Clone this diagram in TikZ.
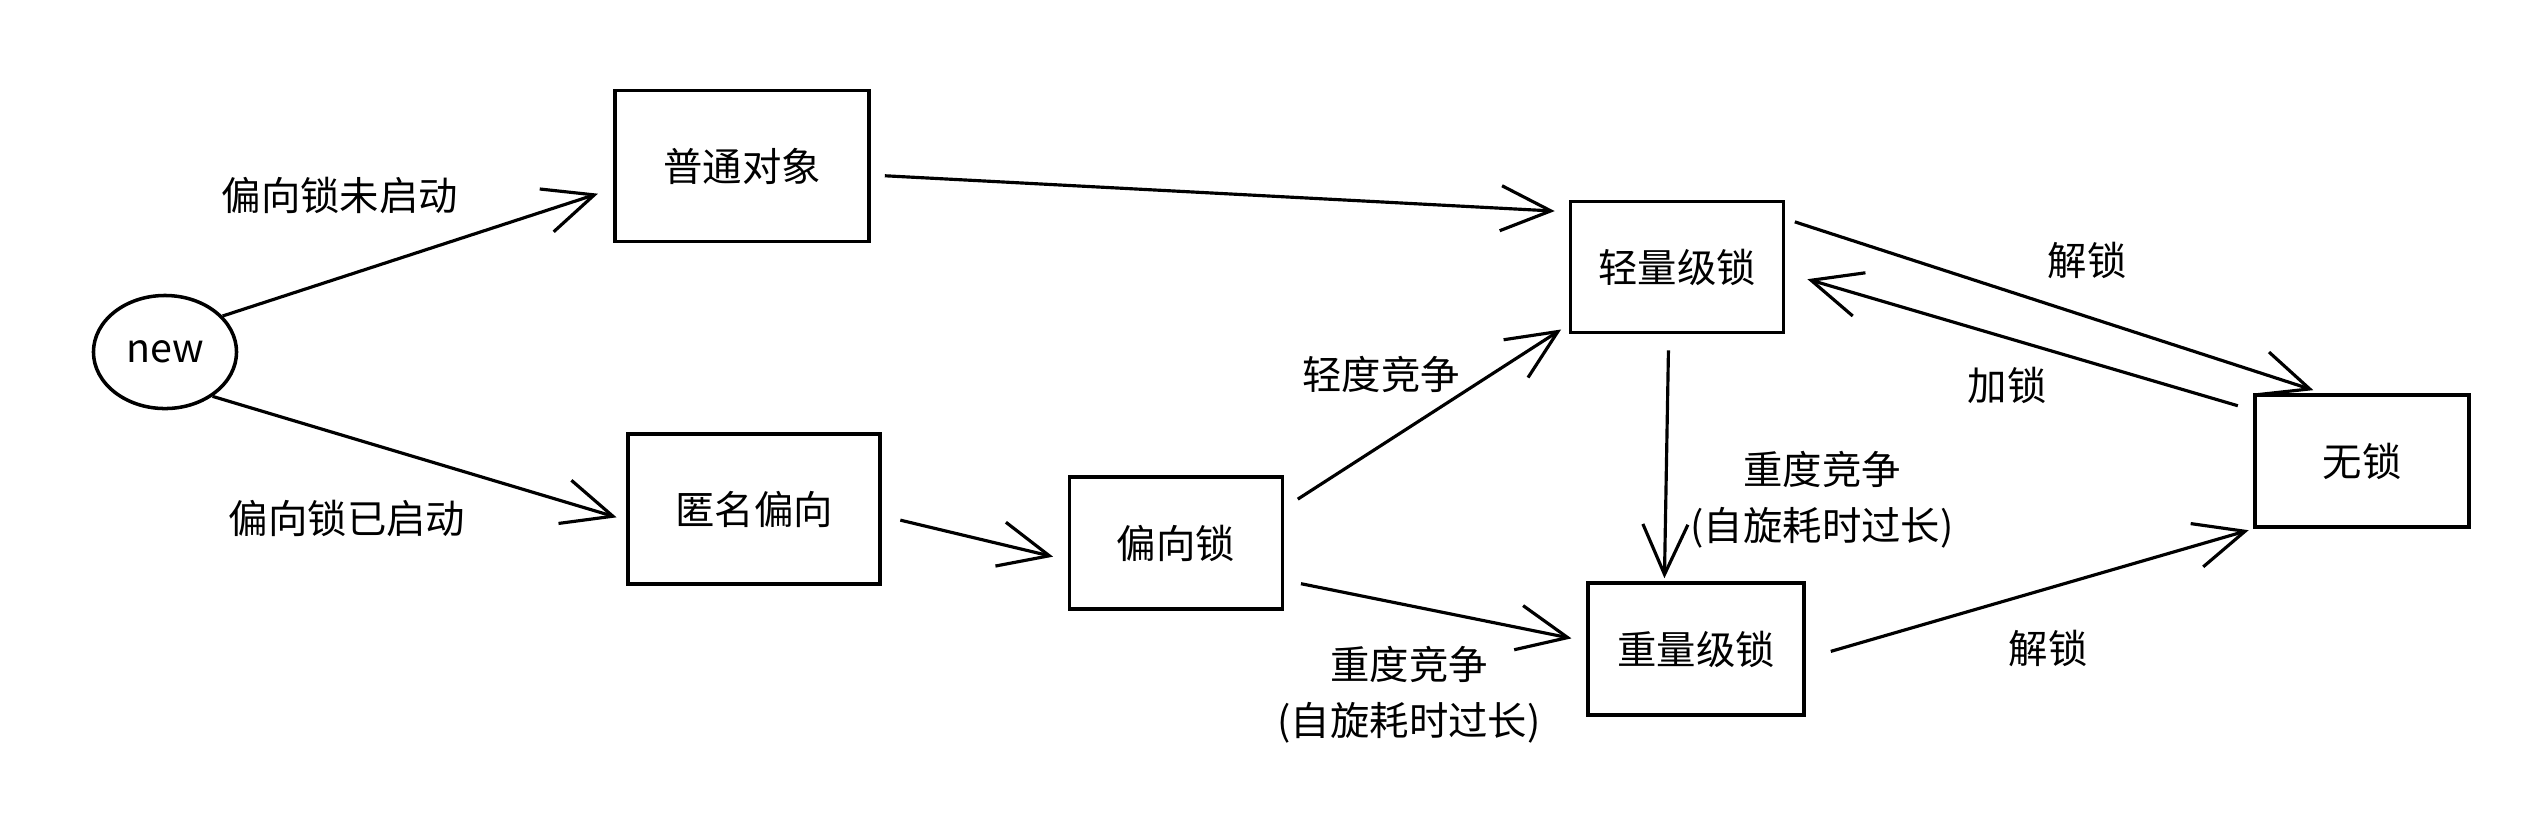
\documentclass[tikz,border=0pt]{standalone}
\usepackage{fontspec}
\newfontfamily\cjk{Noto Sans CJK SC}
\usetikzlibrary{arrows.meta,shapes.geometric}

\tikzset{
    state/.style={draw,line width=1pt,minimum width=2.13cm,minimum height=1.32cm,inner sep=0pt},
    conn/.style={-{Straight Barb[length=5mm,width=4.5mm]},line width=0.9pt},
    lbl/.style={inner sep=0pt,align=center},
}

\begin{document}
\begin{tikzpicture}[x=0.01cm,y=-0.01cm,font=\cjk\fontsize{11.2}{16}\selectfont]
\useasboundingbox (0,0) rectangle (2538,820);
    % states
    \node[draw,ellipse,line width=1pt,minimum width=1.43cm,minimum height=1.13cm] (new) at (165,352) {new};
    \node[state,minimum width=2.54cm,minimum height=1.51cm] (obj) at (742,166) {普通对象};
    \node[state,minimum width=2.52cm,minimum height=1.50cm] (anon) at (754,509) {匿名偏向};
    \node[state] (biased) at (1176,543) {偏向锁};
    \node[state,minimum height=1.31cm] (light) at (1677,267) {轻量级锁};
    \node[state,minimum width=2.16cm] (heavy) at (1696,649) {重量级锁};
    \node[state,minimum width=2.14cm] (nolock) at (2362,461) {无锁};

    % labels
    \node[lbl] (lnoBias) at (340,195) {偏向锁未启动};
    \node[lbl] (lBias) at (347,518) {偏向锁已启动};
    \node[lbl] (lLight) at (1381,374) {轻度竞争};
    \node[lbl] (lHeavyA) at (1409,695) {重度竞争\\(自旋耗时过长)};
    \node[lbl] (lHeavyB) at (1822,500) {重度竞争\\(自旋耗时过长)};
    \node[lbl] (lUnlockA) at (2087,260) {解锁};
    \node[lbl] (lLock) at (2007,385) {加锁};
    \node[lbl] (lUnlockB) at (2048,648) {解锁};

    % transitions
    \draw[conn,shorten >=1.6mm] (new.32) -- (obj.190);
    \draw[conn,shorten >=1mm] (new.317) -- (anon.185);
    \draw[conn,shorten <=1.9mm,shorten >=1.5mm] (anon.357) -- (biased.189);
    \draw[conn,shorten <=1.4mm,shorten >=1.4mm] (obj.356) -- (light.153);
    \draw[conn,shorten <=1.6mm,shorten >=0.9mm] (biased.18) -- (light.208);
    \draw[conn,shorten <=1.7mm,shorten >=1.5mm] (biased.341) -- (heavy.176);
    \draw[conn,shorten <=1.6mm,shorten >=0.3mm] (light.263) -- (heavy.115);
    \draw[conn,shorten <=1mm,shorten >=1mm] (light.24) -- (nolock.120);
    \draw[conn,shorten <=1.6mm,shorten >=2.3mm] (nolock.155) -- (light.357);
    \draw[conn,shorten <=2.6mm,shorten >=0.5mm] (heavy.355) -- (nolock.212);
\end{tikzpicture}
\end{document}
